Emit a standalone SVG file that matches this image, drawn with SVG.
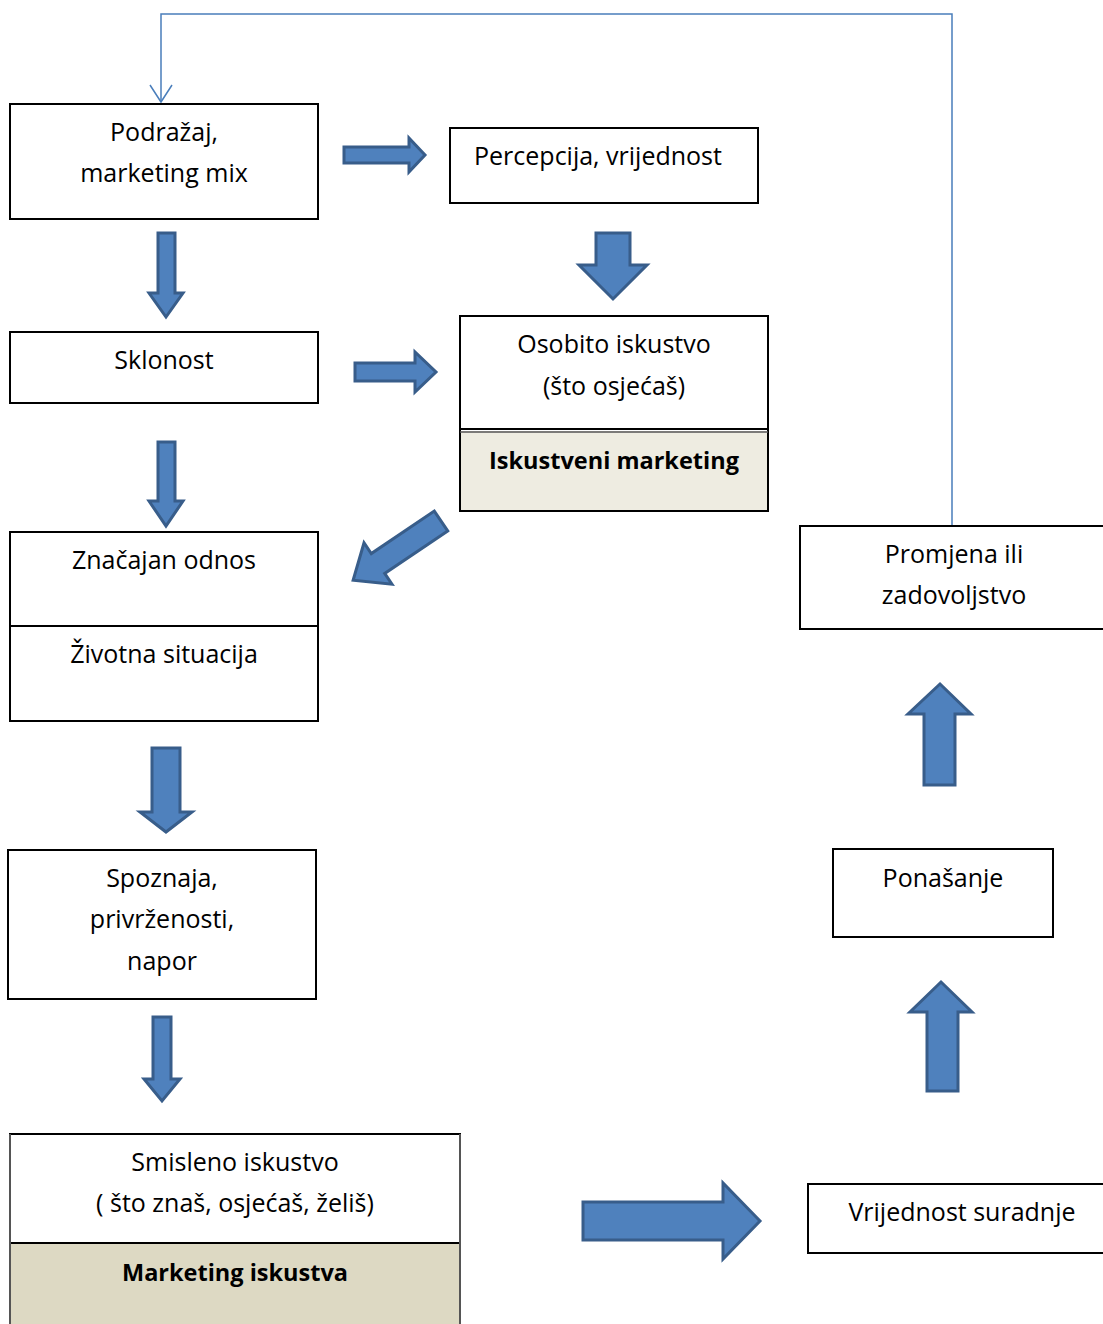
<svg xmlns="http://www.w3.org/2000/svg" width="1103" height="1324" viewBox="0 0 1103 1324">
<style>
.box{fill:#ffffff;stroke:#000000;stroke-width:2}
.t{font-family:"Open Sans","Noto Sans",sans-serif;font-size:25px;fill:#000000;text-anchor:middle}
.b{font-weight:bold;font-size:23.5px}
.ba{fill:#4f81bd;stroke:#385d8a;stroke-width:3;stroke-linejoin:miter}
.fb{fill:none;stroke:#4a7ebb;stroke-width:1.5}
</style>
<rect width="1103" height="1324" fill="#ffffff"/>
<g id="connectors">
<polyline class="fb" points="952,525 952,14 161,14 161,102"/>
<polyline class="fb" points="150,85 161,102 172,85"/>
<polygon class="ba" points="344,147 409,147 409,138 425,155 409,172 409,163 344,163"/>
<polygon class="ba" points="596,233 630,233 630,265 647,265 613,299 579,265 596,265"/>
<polygon class="ba" points="158,233 175,233 175,293 183,293 166,317 149,293 158,293"/>
<polygon class="ba" points="355,363 415,363 415,352 436,372 415,392 415,381 355,381"/>
<polygon class="ba" points="158,442 175,442 175,501 183,501 166,526 149,501 158,501"/>
<polygon class="ba" transform="translate(441,521) rotate(146)" points="0,-12 76,-12 76,-25 106,0 76,25 76,12 0,12"/>
<polygon class="ba" points="152,748 180,748 180,812 192,812 166,832 140,812 152,812"/>
<polygon class="ba" points="153,1017 171,1017 171,1079 180,1079 162,1101 144,1079 153,1079"/>
<polygon class="ba" points="583,1202 723,1202 723,1183 760,1221 723,1259 723,1240 583,1240"/>
<polygon class="ba" points="924,785 955,785 955,714 971,714 940,684 908,714 924,714"/>
<polygon class="ba" points="927,1091 958,1091 958,1012 972,1012 941,982 910,1012 927,1012"/>
</g>
<g id="n1">
<rect class="box" x="10" y="104" width="308" height="115"/>
<text class="t" x="164" y="141">Podražaj,</text>
<text class="t" x="164" y="182">marketing mix</text>
</g>
<g id="n2">
<rect class="box" x="450" y="128" width="308" height="75"/>
<text class="t" x="598" y="165">Percepcija, vrijednost</text>
</g>
<g id="n3">
<rect class="box" x="10" y="332" width="308" height="71"/>
<text class="t" x="164" y="369">Sklonost</text>
</g>
<g id="n4">
<rect class="box" x="460" y="316" width="308" height="195"/>
<rect x="461" y="431" width="306" height="79" fill="#eeece1"/>
<line x1="460" y1="429" x2="768" y2="429" stroke="#000" stroke-width="2"/>
<line x1="460" y1="432" x2="768" y2="432" stroke="#555" stroke-width="1.5"/>
<text class="t" x="614" y="353">Osobito iskustvo</text>
<text class="t" x="614" y="395">(što osjećaš)</text>
<text class="t b" x="614" y="469">Iskustveni marketing</text>
</g>
<g id="n5">
<rect class="box" x="10" y="532" width="308" height="189"/>
<line x1="10" y1="626" x2="318" y2="626" stroke="#000" stroke-width="2"/>
<text class="t" x="164" y="569">Značajan odnos</text>
<text class="t" x="164" y="663">Životna situacija</text>
</g>
<g id="n6">
<rect class="box" x="8" y="850" width="308" height="149"/>
<text class="t" x="162" y="887">Spoznaja,</text>
<text class="t" x="162" y="928">privrženosti,</text>
<text class="t" x="162" y="970">napor</text>
</g>
<g id="n7">
<rect class="box" x="10" y="1134" width="450" height="200"/>
<rect x="11" y="1244" width="448" height="90" fill="#ddd9c3"/>
<line x1="10" y1="1243" x2="460" y2="1243" stroke="#000" stroke-width="2"/>
<line x1="10" y1="1134" x2="10" y2="1324" stroke="#555" stroke-width="2"/>
<line x1="460" y1="1134" x2="460" y2="1324" stroke="#555" stroke-width="2"/>
<text class="t" x="235" y="1171">Smisleno iskustvo</text>
<text class="t" x="235" y="1212">( što znaš, osjećaš, želiš)</text>
<text class="t b" x="235" y="1281">Marketing iskustva</text>
</g>
<g id="n8">
<rect class="box" x="800" y="526" width="310" height="103"/>
<text class="t" x="954" y="563">Promjena ili</text>
<text class="t" x="954" y="604">zadovoljstvo</text>
</g>
<g id="n9">
<rect class="box" x="833" y="849" width="220" height="88"/>
<text class="t" x="943" y="887">Ponašanje</text>
</g>
<g id="n10">
<rect class="box" x="808" y="1184" width="302" height="69"/>
<text class="t" x="962" y="1221">Vrijednost suradnje</text>
</g>
</svg>
